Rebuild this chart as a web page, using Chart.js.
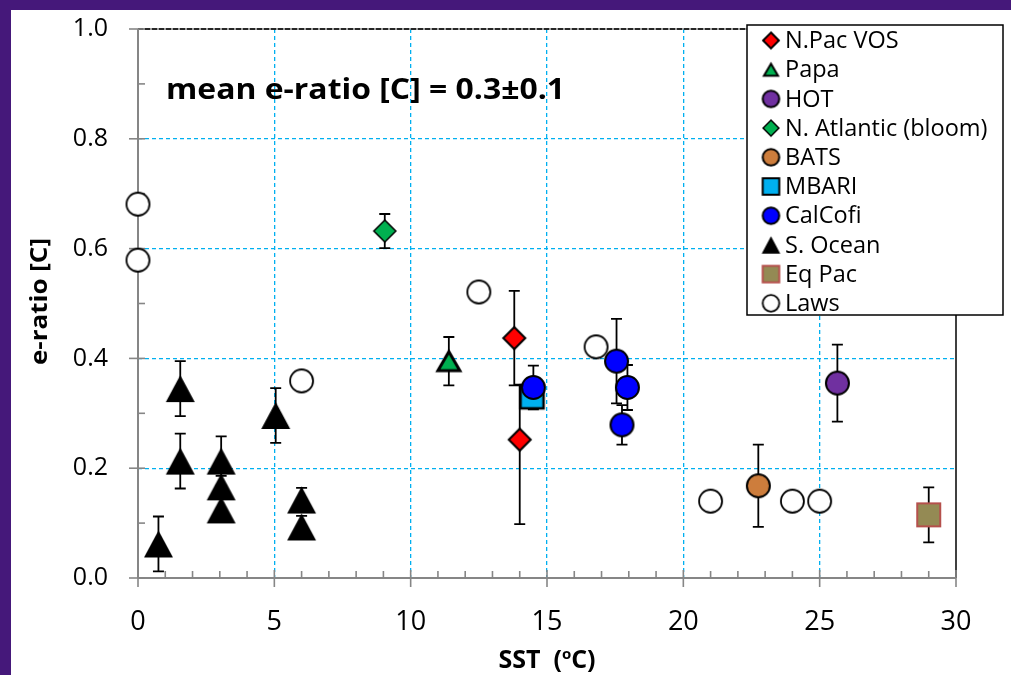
<!DOCTYPE html>
<html><head><meta charset="utf-8">
<script src="https://cdn.jsdelivr.net/npm/chart.js@4.4.1/dist/chart.umd.min.js"></script>
<style>
html,body{margin:0;padding:0;}
body{width:1011px;height:675px;overflow:hidden;background:#45187a;position:relative;}
#wrap{position:absolute;left:11px;top:10px;width:1000px;height:665px;background:#fff;}
canvas{display:block;}
</style></head><body>
<div id="wrap"><canvas id="c" width="1000" height="665"></canvas></div>
<script>
// ---------------- data ----------------
const seriesNames = ["N.Pac VOS","Papa","HOT","N. Atlantic (bloom)","BATS","MBARI","CalCofi","S. Ocean","Eq Pac","Laws"];
const xTickValues = [0,5,10,15,20,25,30];
const yTickValues = [0.0,0.2,0.4,0.6,0.8,1.0];
const annotationText = "mean e-ratio [C] = 0.3\u00B10.1";
const yTitleText = "e-ratio [C]";

const npacSST = [13.8, 14.0];
const npacE   = [0.437, 0.252];
const npacErrUp = [0.086, 0.100];
const npacErrDn = [0.086, 0.154];

const papaSST = [11.4];
const papaE   = [0.395];
const papaErr = [0.044];

const hotSST = [25.65];
const hotE   = [0.355];
const hotErr = [0.07];

const natlSST = [9.05];
const natlE   = [0.632];
const natlErr = [0.031];

const batsSST = [22.75];
const batsE   = [0.168];
const batsErr = [0.075];

const mbariSST = [14.45];
const mbariE   = [0.33];
const mbariErr = [0];

const calcofiSST = [14.5, 17.55, 17.95, 17.75];
const calcofiE   = [0.347, 0.395, 0.347, 0.279];
const calcofiErr = [0.04, 0.077, 0.041, 0.036];

const socSST = [1.55, 1.55, 3.05, 3.05, 3.05, 5.05, 0.75, 6.0, 6.0];
const socE   = [0.345, 0.213, 0.213, 0.166, 0.124, 0.296, 0.062, 0.142, 0.093];
const socErr = [0.05, 0.05, 0.045, 0.02, 0.02, 0.05, 0.05, 0.022, 0.02];

const eqpacSST = [29.0];
const eqpacE   = [0.115];
const eqpacErr = [0.05];

const lawsSST = [0, 0, 12.5, 6.0, 16.8, 21.0, 24.0, 25.0];
const lawsE   = [0.681, 0.579, 0.521, 0.359, 0.421, 0.14, 0.14, 0.14];

// ---------------- markers ----------------
function marker(shape, w, h, fill, stroke, lw){
  const pad = Math.ceil(lw) + 3;
  const c = document.createElement('canvas');
  c.width = Math.ceil(w + pad*2); c.height = Math.ceil(h + pad*2);
  const g = c.getContext('2d');
  const mx = c.width/2, my = c.height/2, hw = w/2, hh = h/2;
  g.beginPath();
  if (shape === 'circle') g.arc(mx, my, hw, 0, Math.PI*2);
  else if (shape === 'square') g.rect(mx-hw, my-hh, w, h);
  else if (shape === 'diamond') { g.moveTo(mx,my-hh); g.lineTo(mx+hw,my); g.lineTo(mx,my+hh); g.lineTo(mx-hw,my); g.closePath(); }
  else if (shape === 'triangle') { g.moveTo(mx,my-hh); g.lineTo(mx+hw,my+hh); g.lineTo(mx-hw,my+hh); g.closePath(); }
  g.fillStyle = fill; g.fill();
  if (lw > 0) { g.lineWidth = lw; g.strokeStyle = stroke; g.lineJoin = 'miter'; g.stroke(); }
  return c;
}
const styleDefs = [
  ['diamond', 22, 22, '#FF0000', '#000', 2],
  ['triangle', 22, 19, '#00B050', '#000', 3],
  ['circle', 23, 23, '#7030A0', '#000', 2],
  ['diamond', 22, 22, '#00B050', '#000', 1.5],
  ['circle', 23, 23, '#CD7D3C', '#000', 2],
  ['square', 23, 23, '#00B0F0', '#000', 2.5],
  ['circle', 23, 23, '#0000FF', '#000', 2],
  ['triangle', 29, 27, '#000000', '#000', 0],
  ['square', 23, 23, '#948A54', '#B5504C', 2],
  ['circle', 23, 23, '#FFFFFF', '#000', 1.8]
];
const pointImgs = styleDefs.map(s => marker(...s));
const legendImgs = styleDefs.map(s => {
  const k = s[0]==='triangle' ? 0.64 : 0.72;
  return marker(s[0], s[1]*k, s[2]*k, s[3], s[4], Math.min(s[5], 2));
});

function pts(xs, ys){ return xs.map((x,i)=>({x:x, y:ys[i]})); }
const seriesX = [npacSST, papaSST, hotSST, natlSST, batsSST, mbariSST, calcofiSST, socSST, eqpacSST, lawsSST];
const seriesY = [npacE, papaE, hotE, natlE, batsE, mbariE, calcofiE, socE, eqpacE, lawsE];
const seriesErrUp = [npacErrUp, papaErr, hotErr, natlErr, batsErr, mbariErr, calcofiErr, socErr, eqpacErr, null];
const seriesErrDn = [npacErrDn, papaErr, hotErr, natlErr, batsErr, mbariErr, calcofiErr, socErr, eqpacErr, null];

const datasets = seriesNames.map((name,i)=>({
  label: name,
  data: pts(seriesX[i], seriesY[i]),
  pointStyle: pointImgs[i],
  pointRadius: 12,
  pointHoverRadius: 12,
  order: 20 - i,
  clip: false,
  errUp: seriesErrUp[i],
  errDn: seriesErrDn[i]
}));

const FONT = "'Open Sans', 'Noto Sans', sans-serif";

// ---------------- plugins ----------------
const axesPlugin = {
  id: 'excelAxes',
  beforeDatasetsDraw(chart){
    const ctx = chart.ctx, xs = chart.scales.x, ys = chart.scales.y;
    const x0 = xs.getPixelForValue(0), x30 = xs.getPixelForValue(30);
    const y0 = ys.getPixelForValue(0), y1 = ys.getPixelForValue(1);
    ctx.save();
    // top frame (dashed dark) and right frame
    ctx.strokeStyle = '#7f7f7f'; ctx.lineWidth = 1.5;
    ctx.beginPath(); ctx.moveTo(x0, y1); ctx.lineTo(x30, y1); ctx.stroke();
    ctx.strokeStyle = '#000'; ctx.setLineDash([5,2]);
    ctx.beginPath(); ctx.moveTo(x0, y1); ctx.lineTo(x30, y1); ctx.stroke();
    ctx.setLineDash([]);
    ctx.strokeStyle = '#000'; ctx.lineWidth = 1.5;
    ctx.beginPath(); ctx.moveTo(x30, y1); ctx.lineTo(x30, y0); ctx.stroke();
    // axes
    ctx.strokeStyle = '#868686'; ctx.lineWidth = 2;
    ctx.beginPath(); ctx.moveTo(x0, y1); ctx.lineTo(x0, y0); ctx.stroke();
    ctx.beginPath(); ctx.moveTo(x0, y0); ctx.lineTo(x30, y0); ctx.stroke();
    ctx.lineWidth = 1.6;
    for (let v = 0; v <= 30; v += 1) {
      const p = xs.getPixelForValue(v);
      ctx.beginPath();
      if (v % 5 === 0) { ctx.moveTo(p, y0 - 8); ctx.lineTo(p, y0 + 9); }
      else { ctx.moveTo(p, y0 - 7); ctx.lineTo(p, y0); }
      ctx.stroke();
    }
    for (let k = 0; k <= 10; k++) {
      const p = ys.getPixelForValue(k/10);
      ctx.beginPath();
      if (k % 2 === 0) { ctx.moveTo(x0 - 9, p); ctx.lineTo(x0 + 7, p); }
      else { ctx.moveTo(x0, p); ctx.lineTo(x0 + 7, p); }
      ctx.stroke();
    }
    // error bars
    ctx.strokeStyle = '#000'; ctx.lineWidth = 1.8;
    chart.data.datasets.forEach(ds => {
      if (!ds.errUp) return;
      ds.data.forEach((d, j) => {
        const up = ds.errUp[j], dn = ds.errDn[j];
        if (!up && !dn) return;
        const px = xs.getPixelForValue(d.x);
        const pt = ys.getPixelForValue(d.y + up), pb = ys.getPixelForValue(d.y - dn);
        ctx.beginPath();
        ctx.moveTo(px, pt); ctx.lineTo(px, pb);
        ctx.moveTo(px - 5.5, pt); ctx.lineTo(px + 5.5, pt);
        ctx.moveTo(px - 5.5, pb); ctx.lineTo(px + 5.5, pb);
        ctx.stroke();
      });
    });
    ctx.restore();
  },
  afterDraw(chart){
    const ctx = chart.ctx, area = chart.chartArea;
    ctx.save();
    ctx.fillStyle = '#000';
    ctx.textBaseline = 'middle'; ctx.textAlign = 'left';
    // annotation (slightly widened like the original)
    ctx.save();
    ctx.font = "bold 28px " + FONT;
    const aw = ctx.measureText(annotationText).width;
    ctx.translate(area.left + 28, area.top + 62);
    ctx.scale(399 / aw, 1);
    ctx.fillText(annotationText, 0, 0);
    ctx.restore();
    // y title (rotated, widened)
    ctx.save();
    ctx.font = "bold 24px " + FONT;
    const tw = ctx.measureText(yTitleText).width;
    ctx.translate(29, (area.top + area.bottom)/2 - 2);
    ctx.rotate(-Math.PI/2);
    ctx.scale(127 / tw, 1);
    ctx.textAlign = 'center';
    ctx.fillText(yTitleText, 0, 0);
    ctx.restore();
    // x title with superscript
    ctx.textBaseline = 'alphabetic';
    const cx = (area.left + area.right)/2, cy = 658;
    const fBig = "bold 25px " + FONT, fSmall = "bold 15px " + FONT;
    const a = "SST  (", b = "o", c = "C)";
    ctx.font = fBig; const wa = ctx.measureText(a).width, wc = ctx.measureText(c).width;
    ctx.font = fSmall; const wb = ctx.measureText(b).width;
    let x = cx - (wa + wb + wc)/2;
    ctx.font = fBig; ctx.fillText(a, x, cy); x += wa;
    ctx.font = fSmall; ctx.fillText(b, x, cy - 9); x += wb;
    ctx.font = fBig; ctx.fillText(c, x, cy);
    // legend box
    ctx.textBaseline = 'middle';
    const L = 736, T = 15, W = 256, H = 290;
    ctx.fillStyle = '#fff'; ctx.fillRect(L, T, W, H);
    ctx.strokeStyle = '#000'; ctx.lineWidth = 1.5; ctx.strokeRect(L, T, W, H);
    ctx.font = "23.5px " + FONT; ctx.fillStyle = '#000';
    seriesNames.forEach((n, i) => {
      const yy = T + 15.5 + i * 29.2;
      const im = legendImgs[i];
      ctx.drawImage(im, L + 24 - im.width/2, yy - im.height/2);
      ctx.fillText(n, L + 38, yy + 1);
    });
    ctx.restore();
  }
};

new Chart(document.getElementById('c'), {
  type: 'scatter',
  data: { datasets: datasets },
  options: {
    responsive: false,
    animation: false,
    events: [],
    layout: { padding: { top: 19, right: 55, left: 0, bottom: 0 } },
    plugins: { legend: { display: false }, tooltip: { enabled: false } },
    scales: {
      x: {
        type: 'linear', min: 0, max: 30,
        afterBuildTicks: s => { s.ticks = xTickValues.map(v => ({value: v})); },
        afterFit: s => { s.height = 97; },
        grid: {
          drawTicks: true, tickLength: 26, tickColor: 'rgba(0,0,0,0)',
          color: c => (c.tick && c.tick.value > 0 && c.tick.value < 30) ? '#00B0F0' : 'rgba(0,0,0,0)',
          lineWidth: 1.3
        },
        border: { display: false, dash: [4,3] },
        ticks: { padding: 2, color: '#000', font: { family: FONT, size: 27 }, callback: v => String(v) }
      },
      y: {
        type: 'linear', min: 0, max: 1,
        afterBuildTicks: s => { s.ticks = yTickValues.map(v => ({value: v})); },
        afterFit: s => { s.width = 127; },
        grid: {
          drawTicks: true, tickLength: 27, tickColor: 'rgba(0,0,0,0)',
          color: c => (c.tick && c.tick.value > 0.001 && c.tick.value < 0.999) ? '#00B0F0' : 'rgba(0,0,0,0)',
          lineWidth: 1.3
        },
        border: { display: false, dash: [4,3] },
        ticks: { padding: 3, color: '#000', font: { family: FONT, size: 25 }, callback: v => Number(v).toFixed(1) }
      }
    }
  },
  plugins: [axesPlugin]
});
</script>
</body></html>
